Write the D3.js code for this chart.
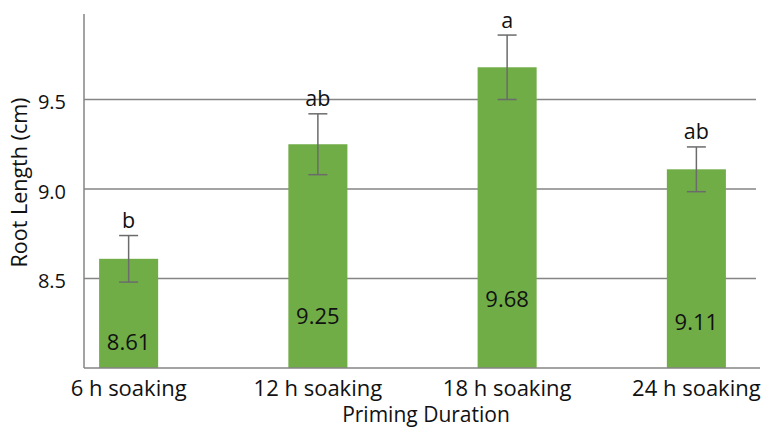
<!DOCTYPE html>
<html>
<head>
<meta charset="utf-8">
<script src="https://cdn.jsdelivr.net/npm/d3@7/dist/d3.min.js"></script>
<style>
  html, body { margin: 0; padding: 0; background: #fff; }
  svg { display: block; }
  text { font-family: "Open Sans", sans-serif; fill: #111; }
</style>
</head>
<body>
<svg id="chart" width="761" height="428"></svg>
<script>
// Root length by priming duration
const categories = ["6 h soaking", "12 h soaking", "18 h soaking", "24 h soaking"];
const rootLength = [8.61, 9.25, 9.68, 9.11];
const stdError = [0.13, 0.17, 0.18, 0.125];
const groupLetters = ["b", "ab", "a", "ab"];
const yTicks = [8.5, 9.0, 9.5];

const svg = d3.select("#chart");

const x = d3.scaleBand()
  .domain(categories)
  .range([34, 791])
  .paddingInner(0.688)
  .paddingOuter(0.344);

const y = d3.scaleLinear().domain([8, 10]).range([368, 10]);

// value labels sit inside the bars, a little higher for taller bars
const labelLift = d3.scaleLinear().domain([8.61, 9.68]).range([18, 61]);

const axisLeft = 84;

// horizontal gridlines
svg.append("g")
  .selectAll("line")
  .data(yTicks)
  .join("line")
  .attr("x1", axisLeft).attr("x2", 756)
  .attr("y1", d => y(d)).attr("y2", d => y(d))
  .attr("stroke", "#858585").attr("stroke-width", 1.5);

// y axis labels
const yAxis = d3.axisLeft(y).tickValues(yTicks).tickFormat(d3.format(".1f")).tickSize(0).tickPadding(18);
const gy = svg.append("g").attr("transform", `translate(${axisLeft},0)`).call(yAxis);
gy.select(".domain").remove();
gy.selectAll("text")
  .attr("font-family", "Open Sans, sans-serif")
  .attr("font-size", 20)
  .attr("fill", "#111")
  .attr("dy", "0.47em");

// bars
svg.append("g")
  .selectAll("rect")
  .data(rootLength)
  .join("rect")
  .attr("x", (d, i) => x(categories[i]))
  .attr("width", x.bandwidth())
  .attr("y", d => y(d))
  .attr("height", d => y(8) - y(d))
  .attr("fill", "#70ad47");

// error bars
const eb = svg.append("g").attr("stroke", "#6b6b6b").attr("stroke-width", 1.5);
rootLength.forEach((v, i) => {
  const cx = x(categories[i]) + x.bandwidth() / 2;
  const top = y(v + stdError[i]), bot = y(v - stdError[i]);
  eb.append("line").attr("x1", cx).attr("x2", cx).attr("y1", top).attr("y2", bot);
  eb.append("line").attr("x1", cx - 9.5).attr("x2", cx + 9.5).attr("y1", top).attr("y2", top);
  eb.append("line").attr("x1", cx - 9.5).attr("x2", cx + 9.5).attr("y1", bot).attr("y2", bot);
});

// significance letters
svg.append("g")
  .selectAll("text")
  .data(groupLetters)
  .join("text")
  .attr("x", (d, i) => x(categories[i]) + x.bandwidth() / 2)
  .attr("y", (d, i) => y(rootLength[i] + stdError[i]) - 7.5)
  .attr("text-anchor", "middle")
  .attr("font-size", 21.5)
  .text(d => d);

// value labels
svg.append("g")
  .selectAll("text")
  .data(rootLength)
  .join("text")
  .attr("x", (d, i) => x(categories[i]) + x.bandwidth() / 2)
  .attr("y", d => y(8) - labelLift(d))
  .attr("text-anchor", "middle")
  .attr("font-size", 22)
  .text(d => d.toFixed(2));

// axis lines
svg.append("line")
  .attr("x1", axisLeft).attr("x2", axisLeft)
  .attr("y1", y(8)).attr("y2", y(9.977))
  .attr("stroke", "#858585").attr("stroke-width", 1.5);
svg.append("line")
  .attr("x1", axisLeft).attr("x2", 760)
  .attr("y1", y(8)).attr("y2", y(8))
  .attr("stroke", "#858585").attr("stroke-width", 1.5);

// category labels
svg.append("g")
  .selectAll("text")
  .data(categories)
  .join("text")
  .attr("x", d => x(d) + x.bandwidth() / 2)
  .attr("y", 396)
  .attr("text-anchor", "middle")
  .attr("font-size", 22)
  .text(d => d);

// axis titles
svg.append("text")
  .attr("x", 426).attr("y", 422)
  .attr("text-anchor", "middle")
  .attr("font-size", 21)
  .text("Priming Duration");

svg.append("text")
  .attr("transform", "translate(27,182.5) rotate(-90)")
  .attr("text-anchor", "middle")
  .attr("font-size", 21.5)
  .text("Root Length (cm)");
</script>
</body>
</html>
